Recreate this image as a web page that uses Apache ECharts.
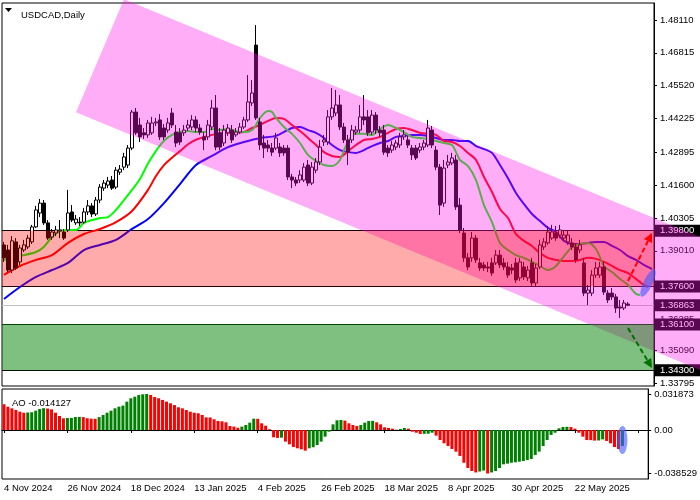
<!DOCTYPE html>
<html><head><meta charset="utf-8">
<script src="https://cdn.jsdelivr.net/npm/echarts@6/dist/echarts.min.js"></script>
<style>html,body{margin:0;padding:0;background:#fff}#c{width:700px;height:500px}</style>
</head><body><div id="c"></div>
<script>
const symbolTitle = 'USDCAD,Daily';
const aoTitle = 'AO -0.014127';
const dateLabels = ['4 Nov 2024','26 Nov 2024','18 Dec 2024','13 Jan 2025','4 Feb 2025','26 Feb 2025','18 Mar 2025','8 Apr 2025','30 Apr 2025','22 May 2025'];
const priceTicks = [1.48110,1.46815,1.45520,1.44225,1.42895,1.41600,1.40305,1.39010,1.36285,1.35090,1.33795];
const aoTicks = [0.031873, 0, -0.038529];
const levelsRed = [1.398, 1.376];
const levelsGreen = [1.361, 1.343];

const opens = [1.3924,1.3904,1.3825,1.3936,1.3857,1.3904,1.3916,1.3936,1.3995,1.4050,
1.4089,1.4011,1.3955,1.3971,1.3979,1.3975,1.3983,1.4054,1.4011,1.4014,
1.4014,1.4054,1.4078,1.4046,1.4101,1.4148,1.4160,1.4180,1.4152,1.4211,
1.4231,1.4239,1.4306,1.4448,1.4397,1.4366,1.4358,1.4366,1.4405,1.4417,
1.4385,1.4377,1.4444,1.4369,1.4366,1.4366,1.4385,1.4389,1.4417,1.4385,
1.4350,1.4350,1.4389,1.4464,1.4366,1.4326,1.4366,1.4377,1.4358,1.4369,
1.4389,1.4417,1.4484,1.4712,1.4409,1.4326,1.4318,1.4306,1.4306,1.4310,
1.4306,1.4306,1.4192,1.4180,1.4180,1.4180,1.4239,1.4168,1.4219,1.4251,
1.4330,1.4330,1.4429,1.4444,1.4476,1.4389,1.4338,1.4338,1.4369,1.4377,
1.4429,1.4429,1.4369,1.4436,1.4377,1.4377,1.4306,1.4298,1.4310,1.4318,
1.4350,1.4338,1.4306,1.4306,1.4298,1.4310,1.4318,1.4377,1.4298,1.4231,
1.4089,1.4239,1.4247,1.4259,1.4081,1.3971,1.3873,1.3873,1.3951,1.3853,
1.3845,1.3837,1.3853,1.3853,1.3884,1.3853,1.3837,1.3833,1.3853,1.3794,
1.3837,1.3794,1.3853,1.3774,1.3837,1.3916,1.3932,1.3951,1.3971,1.3963,
1.3951,1.3936,1.3932,1.3916,1.3904,1.3853,1.3734,1.3734,1.3805,1.3805,
1.3837,1.3734,1.3734,1.3719,1.3679,1.3675,1.3691];
const closes = [1.3873,1.3825,1.3940,1.3833,1.3912,1.3924,1.3951,1.3995,1.4062,1.4089,
1.4011,1.3951,1.3975,1.3983,1.3983,1.3951,1.4050,1.4022,1.4026,1.4011,
1.4054,1.4078,1.4046,1.4101,1.4152,1.4168,1.4176,1.4148,1.4219,1.4223,
1.4271,1.4306,1.4448,1.4366,1.4350,1.4358,1.4405,1.4405,1.4409,1.4350,
1.4350,1.4405,1.4397,1.4326,1.4330,1.4377,1.4397,1.4417,1.4385,1.4369,
1.4338,1.4397,1.4464,1.4310,1.4310,1.4377,1.4385,1.4338,1.4369,1.4389,
1.4417,1.4488,1.4523,1.4425,1.4318,1.4306,1.4306,1.4290,1.4346,1.4287,
1.4287,1.4192,1.4180,1.4168,1.4200,1.4231,1.4168,1.4231,1.4251,1.4310,
1.4338,1.4429,1.4464,1.4476,1.4389,1.4338,1.4290,1.4377,1.4377,1.4429,
1.4417,1.4366,1.4436,1.4377,1.4366,1.4290,1.4287,1.4318,1.4326,1.4350,
1.4358,1.4318,1.4279,1.4267,1.4310,1.4326,1.4385,1.4318,1.4231,1.4081,
1.4227,1.4251,1.4267,1.4074,1.3983,1.3873,1.3837,1.3951,1.3865,1.3833,
1.3833,1.3833,1.3813,1.3884,1.3845,1.3837,1.3805,1.3825,1.3786,1.3857,
1.3798,1.3825,1.3774,1.3833,1.3924,1.3936,1.3975,1.3975,1.3951,1.3983,
1.3963,1.3963,1.3916,1.3865,1.3924,1.3734,1.3746,1.3805,1.3833,1.3837,
1.3738,1.3707,1.3719,1.3675,1.3675,1.3695,1.36863];
const lows = [1.3857,1.3817,1.3813,1.3825,1.3845,1.3896,1.3908,1.3928,1.3991,1.4034,
1.4003,1.3944,1.3944,1.3959,1.3951,1.3944,1.3975,1.4014,1.4003,1.3999,
1.4007,1.4042,1.4034,1.4038,1.4089,1.4137,1.4148,1.4141,1.4144,1.4200,
1.4219,1.4227,1.4298,1.4358,1.4330,1.4342,1.4346,1.4358,1.4393,1.4338,
1.4338,1.4366,1.4385,1.4310,1.4318,1.4354,1.4373,1.4377,1.4369,1.4358,
1.4298,1.4338,1.4377,1.4298,1.4298,1.4314,1.4354,1.4326,1.4350,1.4362,
1.4381,1.4409,1.4472,1.4417,1.4298,1.4267,1.4290,1.4275,1.4298,1.4271,
1.4275,1.4180,1.4148,1.4156,1.4168,1.4172,1.4156,1.4160,1.4207,1.4239,
1.4314,1.4318,1.4417,1.4432,1.4377,1.4326,1.4239,1.4326,1.4358,1.4366,
1.4397,1.4354,1.4358,1.4362,1.4350,1.4279,1.4271,1.4287,1.4298,1.4306,
1.4338,1.4306,1.4259,1.4259,1.4287,1.4298,1.4310,1.4306,1.4219,1.4042,
1.4074,1.4227,1.4239,1.4062,1.3971,1.3857,1.3825,1.3857,1.3853,1.3821,
1.3821,1.3817,1.3802,1.3845,1.3833,1.3825,1.3794,1.3809,1.3774,1.3782,
1.3786,1.3782,1.3762,1.3762,1.3829,1.3904,1.3924,1.3944,1.3940,1.3951,
1.3940,1.3924,1.3904,1.3853,1.3892,1.3722,1.3687,1.3722,1.3794,1.3794,
1.3727,1.3695,1.3707,1.3656,1.3636,1.3667,1.3683];
const highs = [1.3936,1.3924,1.3959,1.3951,1.3924,1.3944,1.3963,1.4003,1.4078,1.4105,
1.4101,1.4022,1.3987,1.3999,1.4022,1.3987,1.4141,1.4081,1.4042,1.4034,
1.4070,1.4101,1.4089,1.4113,1.4164,1.4180,1.4192,1.4196,1.4231,1.4239,
1.4287,1.4318,1.4456,1.4464,1.4425,1.4385,1.4417,1.4429,1.4425,1.4440,
1.4401,1.4425,1.4464,1.4397,1.4385,1.4397,1.4417,1.4436,1.4432,1.4401,
1.4369,1.4417,1.4496,1.4515,1.4385,1.4397,1.4401,1.4397,1.4385,1.4405,
1.4429,1.4594,1.4574,1.4791,1.4425,1.4358,1.4338,1.4326,1.4366,1.4326,
1.4318,1.4318,1.4204,1.4192,1.4219,1.4247,1.4259,1.4251,1.4267,1.4338,
1.4358,1.4456,1.4543,1.4535,1.4515,1.4405,1.4358,1.4397,1.4393,1.4476,
1.4515,1.4456,1.4456,1.4448,1.4393,1.4397,1.4318,1.4334,1.4338,1.4366,
1.4377,1.4354,1.4318,1.4318,1.4326,1.4338,1.4417,1.4393,1.4314,1.4243,
1.4259,1.4279,1.4287,1.4279,1.4109,1.3991,1.3892,1.3975,1.3963,1.3873,
1.3857,1.3857,1.3873,1.3904,1.3904,1.3873,1.3857,1.3849,1.3873,1.3873,
1.3857,1.3841,1.3873,1.3849,1.3944,1.3951,1.3999,1.4003,1.3999,1.4003,
1.3983,1.3983,1.3951,1.3932,1.3944,1.3873,1.3766,1.3825,1.3857,1.3857,
1.3857,1.3746,1.3754,1.3731,1.3707,1.3707,1.3699];

// Alligator lines: [bar index, price]
const jaw = [[0,1.3711],[4,1.3758],[8,1.3798],[12,1.3825],[16,1.3853],[20,1.3904],[24,1.3924],[28,1.3944],[32,1.3987],[36,1.4026],[40,1.4089],[44,1.4164],[48,1.4239],[52,1.4275],[56,1.4310],[60,1.4330],[64,1.4346],[68,1.4354],[72,1.4385],[74,1.4389],[76,1.4377],[78,1.4366],[80,1.4346],[82,1.4318],[84,1.4298],[86,1.4290],[88,1.4287],[90,1.4298],[92,1.4314],[94,1.4326],[96,1.4334],[98,1.4350],[100,1.4354],[102,1.4358],[104,1.4358],[106,1.4354],[108,1.4346],[110,1.4338],[112,1.4338],[114,1.4334],[116,1.4334],[118,1.4314],[120,1.4302],[122,1.4287],[124,1.4239],[126,1.4187],[128,1.4129],[130,1.4085],[132,1.4046],[134,1.4018],[136,1.3991],[138,1.3975],[140,1.3940],[142,1.3928],[144,1.3928],[146,1.3932],[148,1.3936],[150,1.3936],[152,1.3920],[154,1.3904],[156,1.3880],[158,1.3865],[160,1.3845],[162,1.3829]];
const teeth = [[0,1.3806],[4,1.3841],[8,1.3865],[12,1.3884],[16,1.3932],[20,1.3967],[24,1.3987],[28,1.4014],[32,1.4058],[36,1.4141],[38,1.4196],[40,1.4239],[42,1.4268],[44,1.4294],[46,1.4321],[48,1.4339],[52,1.4358],[56,1.4366],[60,1.4369],[62,1.4385],[64,1.4397],[66,1.4413],[68,1.4425],[70,1.4421],[72,1.4397],[74,1.4373],[76,1.4346],[78,1.4318],[80,1.4290],[82,1.4275],[84,1.4271],[86,1.4294],[88,1.4318],[90,1.4338],[92,1.4342],[94,1.4350],[96,1.4366],[98,1.4381],[100,1.4385],[102,1.4377],[104,1.4366],[106,1.4362],[108,1.4358],[110,1.4334],[112,1.4330],[114,1.4314],[116,1.4287],[118,1.4259],[120,1.4192],[122,1.4133],[124,1.4066],[126,1.4030],[128,1.3967],[130,1.3940],[132,1.3920],[134,1.3892],[136,1.3873],[138,1.3865],[140,1.3861],[142,1.3861],[144,1.3865],[146,1.3873],[148,1.3869],[150,1.3857],[152,1.3841],[154,1.3825],[156,1.3813],[158,1.3790],[160,1.3766],[161,1.3758]];
const lips = [[0,1.3865],[4,1.3880],[8,1.3896],[10,1.3917],[12,1.3955],[14,1.3979],[16,1.3983],[18,1.3983],[20,1.4011],[24,1.4030],[26,1.4034],[28,1.4062],[30,1.4101],[32,1.4141],[34,1.4184],[36,1.4245],[38,1.4295],[40,1.4335],[42,1.4358],[44,1.4369],[46,1.4373],[48,1.4369],[50,1.4369],[52,1.4381],[54,1.4377],[56,1.4381],[58,1.4373],[60,1.4369],[62,1.4377],[63,1.4397],[64,1.4425],[66,1.4452],[67,1.4448],[68,1.4425],[70,1.4389],[72,1.4362],[74,1.4326],[76,1.4279],[78,1.4255],[80,1.4239],[82,1.4235],[84,1.4259],[85,1.4298],[86,1.4330],[87,1.4354],[88,1.4362],[90,1.4362],[92,1.4358],[94,1.4381],[96,1.4397],[98,1.4385],[100,1.4369],[102,1.4350],[104,1.4346],[106,1.4342],[108,1.4334],[110,1.4326],[112,1.4318],[113,1.4290],[114,1.4259],[116,1.4235],[118,1.4180],[120,1.4081],[122,1.4014],[124,1.3932],[126,1.3904],[128,1.3884],[130,1.3873],[132,1.3857],[134,1.3841],[136,1.3825],[138,1.3841],[140,1.3880],[142,1.3916],[144,1.3928],[146,1.3932],[148,1.3908],[150,1.3841],[152,1.3817],[154,1.3790],[156,1.3766],[158,1.3731],[159,1.3727]];

const ao = [0.0228,0.0206,0.0192,0.0177,0.0162,0.0153,0.0155,0.0157,0.0171,0.0186,
0.0193,0.0190,0.0183,0.0153,0.0124,0.0103,0.0106,0.0107,0.0115,0.0116,
0.0114,0.0104,0.0100,0.0099,0.0114,0.0133,0.0153,0.0171,0.0192,0.0207,
0.0216,0.0251,0.0281,0.0295,0.0310,0.0316,0.031873,0.0310,0.0292,0.0281,
0.0266,0.0251,0.0236,0.0221,0.0201,0.0192,0.0177,0.0162,0.0153,0.0148,
0.0133,0.0112,0.0111,0.0095,0.0080,0.0077,0.0068,0.0035,0.0030,0.0020,
0.0030,0.0044,0.0065,0.0100,0.0099,0.0059,0.0038,0.0006,-0.0065,-0.0070,
-0.0068,-0.0103,-0.0127,-0.0151,-0.0162,-0.0171,-0.0183,-0.0162,-0.0153,-0.0133,
-0.0103,-0.0059,-0.0015,0.0050,0.0086,0.0089,0.0083,0.0059,0.0044,0.0035,
0.0044,0.0065,0.0080,0.0081,0.0068,0.0050,0.0024,0.0018,0.0012,0.0003,
0.0009,0.0018,0.0012,-0.0015,-0.0024,-0.0035,-0.0034,-0.0033,-0.0024,-0.0050,
-0.0089,-0.0118,-0.0142,-0.0168,-0.0192,-0.0230,-0.0290,-0.0337,-0.0363,-0.0376,
-0.0368,-0.0359,-0.038529,-0.0376,-0.0363,-0.0337,-0.0304,-0.0298,-0.0290,-0.0286,
-0.0281,-0.0275,-0.0266,-0.0257,-0.0221,-0.0192,-0.0142,-0.0089,-0.0044,-0.0024,
0.0015,0.0027,0.0028,0.0026,0.0012,-0.0024,-0.0059,-0.0089,-0.0090,-0.0094,
-0.0093,-0.0083,-0.0097,-0.0118,-0.0151,-0.0168,-0.014127];

// annotations in (bar index, price)
const channelPts = [[30,1.48932],[180,1.39159],[180,1.33922],[18,1.44475]];
const arrowUp = {from:[156,1.3782], to:[162,1.3971]};
const arrowDown = {from:[156,1.3596], to:[162,1.3439]};
const ellipseMain = [161, 1.3774];
const ellipseAO = [156, -0.0089];

// ---------- layout / style ----------
const FONT = 'Liberation Sans, Arial, sans-serif';
const FS = 9.5;
const SLOTS = 163;
const LABEL_STEP = 16;
const cats = Array.from({length: SLOTS}, (_, i) => String(i));
const candles = opens.map((o, i) => [o, closes[i], lows[i], highs[i]]);
const lastPrice = closes[closes.length - 1];

const aoData = ao.map((v, i) => ({
  value: v,
  itemStyle: {color: (i > 0 && v > ao[i - 1]) ? '#008000' : '#ff0000'}
}));

function bandItem(lv, fill) {
  return function (params, api) {
    const cs = params.coordSys;
    const y1 = api.coord([0, lv[0]])[1];
    const y2 = api.coord([0, lv[1]])[1];
    return {type: 'rect', shape: {x: cs.x, y: Math.min(y1, y2), width: cs.width, height: Math.abs(y2 - y1)},
      style: {fill: fill}};
  };
}

function arrowItem(a, color) {
  return function (params, api) {
    const p0 = api.coord(a.from), p1 = api.coord(a.to);
    const dx = p1[0] - p0[0], dy = p1[1] - p0[1];
    const len = Math.hypot(dx, dy), ux = dx / len, uy = dy / len;
    const L = 9, W = 4.5;
    const bx = p1[0] - ux * L, by = p1[1] - uy * L;
    return {type: 'group', children: [
      {type: 'line', shape: {x1: p0[0], y1: p0[1], x2: bx, y2: by},
        style: {stroke: color, lineWidth: 2, lineDash: [5, 3]}},
      {type: 'polygon', shape: {points: [[p1[0], p1[1]], [bx - uy * W, by + ux * W], [bx + uy * W, by - ux * W]]},
        style: {fill: color}}
    ]};
  };
}

function ellipseItem(center, sx, sy, rot) {
  return function (params, api) {
    const p = api.coord(center);
    return {type: 'circle', shape: {cx: 0, cy: 0, r: 1}, x: p[0], y: p[1],
      scaleX: sx, scaleY: sy, rotation: rot, style: {fill: 'rgba(70,90,255,0.62)'}};
  };
}

const labelBox = {
  show: true, position: 'end', distance: 1,
  formatter: p => Number(p.value).toFixed(5),
  backgroundColor: '#000', color: '#fff', padding: [1, 8, 1, 5],
  fontFamily: FONT, fontSize: FS, lineHeight: 10
};

const option = {
  animation: false,
  backgroundColor: '#fff',
  title: [
    {text: symbolTitle, left: 16, top: 5, textStyle: {fontFamily: FONT, fontSize: FS, fontWeight: 'normal', color: '#000'}},
    {text: aoTitle, left: 7, top: 393, textStyle: {fontFamily: FONT, fontSize: FS, fontWeight: 'normal', color: '#000'}}
  ],
  graphic: [{type: 'polygon', shape: {points: [[5, 8], [12, 8], [8.5, 12]]}, style: {fill: '#000'}}],
  grid: [
    {left: 2, width: 652, top: 3, height: 383, show: true, borderColor: '#000', borderWidth: 1, backgroundColor: 'transparent'},
    {left: 2, width: 652, top: 389, height: 90, show: true, borderColor: '#000', borderWidth: 1, backgroundColor: 'transparent'}
  ],
  xAxis: [
    {type: 'category', gridIndex: 0, data: cats, boundaryGap: true,
      axisLine: {show: false}, axisTick: {show: false}, axisLabel: {show: false}, splitLine: {show: false}},
    {type: 'category', gridIndex: 1, data: cats, boundaryGap: true,
      axisLine: {show: true, lineStyle: {color: '#000', width: 1}},
      axisTick: {show: true, length: 3, alignWithLabel: true, interval: i => i % LABEL_STEP === 0, lineStyle: {color: '#000'}},
      axisLabel: {interval: i => i % LABEL_STEP === 0, align: 'left', margin: 4,
        formatter: (v, i) => (i % LABEL_STEP === 0 && dateLabels[i / LABEL_STEP]) || '',
        fontFamily: FONT, fontSize: FS, color: '#000'},
      splitLine: {show: false}}
  ],
  yAxis: [
    {type: 'value', gridIndex: 0, position: 'right', min: 1.33677, max: 1.48781, scale: true,
      axisLine: {show: true, lineStyle: {color: '#000'}},
      axisTick: {show: true, length: 3, customValues: priceTicks, lineStyle: {color: '#000'}},
      axisLabel: {customValues: priceTicks, formatter: v => v.toFixed(5), margin: 6,
        fontFamily: FONT, fontSize: FS, color: '#000'},
      splitLine: {show: false}},
    {type: 'value', gridIndex: 1, position: 'right', min: -0.0434, max: 0.0363,
      axisLine: {show: true, lineStyle: {color: '#000'}},
      axisTick: {show: true, length: 3, customValues: aoTicks, lineStyle: {color: '#000'}},
      axisLabel: {customValues: aoTicks, formatter: v => v === 0 ? '0.00' : v.toFixed(6), margin: 6,
        fontFamily: FONT, fontSize: FS, color: '#000'},
      splitLine: {show: false}}
  ],
  series: [
    {type: 'candlestick', xAxisIndex: 0, yAxisIndex: 0, data: candles, barWidth: 3, z: 2,
      itemStyle: {color: '#fff', color0: '#000', borderColor: '#000', borderColor0: '#000', borderWidth: 1},
      markLine: {z: 2, silent: true, symbol: 'none', animation: false, precision: 5, label: labelBox,
        data: [
          {yAxis: levelsRed[0], lineStyle: {color: '#000', type: 'solid', width: 1}},
          {yAxis: levelsRed[1], lineStyle: {color: '#000', type: 'solid', width: 1}},
          {yAxis: levelsGreen[0], lineStyle: {color: '#003300', type: 'solid', width: 1}},
          {yAxis: levelsGreen[1], lineStyle: {color: '#000', type: 'solid', width: 1}},
          {yAxis: lastPrice, lineStyle: {color: '#c0c0c0', type: 'solid', width: 1}}
        ]}},
    {type: 'line', xAxisIndex: 0, yAxisIndex: 0, data: jaw, symbol: 'none', smooth: 0.3, z: 2,
      lineStyle: {color: '#0000ff', width: 2}},
    {type: 'line', xAxisIndex: 0, yAxisIndex: 0, data: teeth, symbol: 'none', smooth: 0.3, z: 2,
      lineStyle: {color: '#ff0000', width: 2}},
    {type: 'line', xAxisIndex: 0, yAxisIndex: 0, data: lips, symbol: 'none', smooth: 0.3, z: 2,
      lineStyle: {color: '#00ff00', width: 2}},
    {type: 'custom', xAxisIndex: 0, yAxisIndex: 0, z: 3, clip: false, silent: true, data: [0],
      renderItem: (params, api) => ({type: 'polygon', shape: {points: channelPts.map(p => api.coord(p))},
        style: {fill: 'rgba(255,20,230,0.35)'}})},
    {type: 'custom', xAxisIndex: 0, yAxisIndex: 0, z: 4, clip: false, silent: true, data: [0],
      renderItem: bandItem(levelsRed, 'rgba(255,0,0,0.33)')},
    {type: 'custom', xAxisIndex: 0, yAxisIndex: 0, z: 5, clip: false, silent: true, data: [0],
      renderItem: bandItem(levelsGreen, 'rgba(0,128,0,0.5)')},
    {type: 'custom', xAxisIndex: 0, yAxisIndex: 0, z: 6, clip: false, silent: true, data: [0],
      renderItem: arrowItem(arrowUp, '#ff0000')},
    {type: 'custom', xAxisIndex: 0, yAxisIndex: 0, z: 6, clip: false, silent: true, data: [0],
      renderItem: arrowItem(arrowDown, '#007000')},
    {type: 'custom', xAxisIndex: 0, yAxisIndex: 0, z: 7, clip: false, silent: true, data: [0],
      renderItem: ellipseItem(ellipseMain, 4.5, 15, -0.45)},
    {type: 'bar', xAxisIndex: 1, yAxisIndex: 1, data: aoData, barWidth: 3, z: 2},
    {type: 'custom', xAxisIndex: 1, yAxisIndex: 1, z: 7, clip: false, silent: true, data: [0],
      renderItem: ellipseItem(ellipseAO, 5, 14, 0)}
  ]
};
const chart = echarts.init(document.getElementById('c'), null, {renderer: 'canvas'});
chart.setOption(option);
</script></body></html>
